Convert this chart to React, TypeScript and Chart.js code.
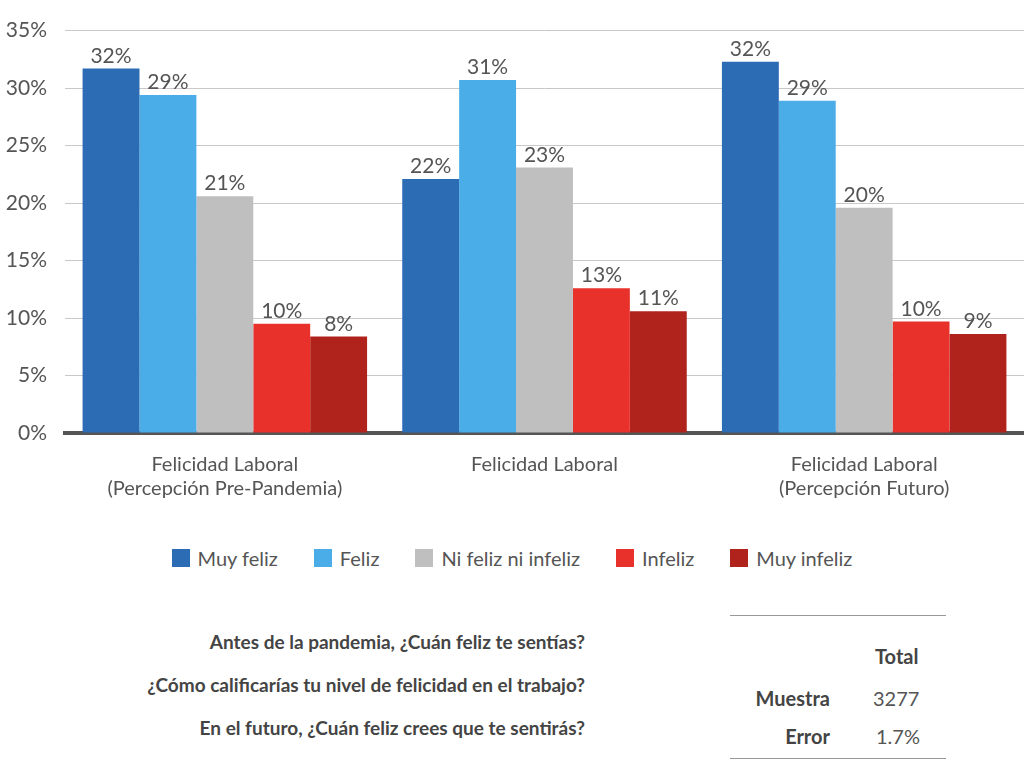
import React, { useEffect, useRef } from "react";
import { Chart, registerables } from "chart.js";
Chart.register(...registerables);

const categories = [["Felicidad Laboral", "(Percepción Pre-Pandemia)"], ["Felicidad Laboral"], ["Felicidad Laboral", "(Percepción Futuro)"]];
const seriesNames = ["Muy feliz", "Feliz", "Ni feliz ni infeliz", "Infeliz", "Muy infeliz"];
const colors = ["#2B6CB5", "#4BADE8", "#BFBFBF", "#E8312A", "#B0231C"];
const muyFeliz = [31.7, 22.1, 32.3];
const feliz = [29.4, 30.7, 28.9];
const niFeliz = [20.6, 23.1, 19.6];
const infeliz = [9.5, 12.6, 9.7];
const muyInfeliz = [8.4, 10.6, 8.6];
const seriesValues = [muyFeliz, feliz, niFeliz, infeliz, muyInfeliz];
const questions = ["Antes de la pandemia, ¿Cuán feliz te sentías?", "¿Cómo calificarías tu nivel de felicidad en el trabajo?", "En el futuro, ¿Cuán feliz crees que te sentirás?"];
const font = "Lato, 'Open Sans', sans-serif";

const labelPlugin = {
  id: "vals",
  afterDatasetsDraw(chart: any) {
    const ctx = chart.ctx;
    ctx.save();
    ctx.font = `21px ${font}`;
    ctx.fillStyle = "#555";
    ctx.textAlign = "center";
    ctx.textBaseline = "bottom";
    chart.data.datasets.forEach((ds: any, i: number) => {
      chart.getDatasetMeta(i).data.forEach((bar: any, j: number) => {
        ctx.fillText(Math.round(ds.data[j]) + "%", bar.x, bar.y - 2);
      });
    });
    ctx.restore();
  },
};

export default function App() {
  const ref = useRef<HTMLCanvasElement>(null);
  useEffect(() => {
    const chart = new Chart(ref.current!, {
      type: "bar",
      data: {
        labels: categories as any,
        datasets: seriesNames.map((n, i) => ({ label: n, data: seriesValues[i], backgroundColor: colors[i], barPercentage: 1, categoryPercentage: 0.89 })),
      },
      options: {
        animation: false,
        responsive: false,
        layout: { padding: { top: 12, right: 0 } },
        plugins: { legend: { display: false }, tooltip: { enabled: false } },
        scales: {
          y: {
            min: 0, max: 35,
            ticks: { stepSize: 5, callback: (v: any) => v + "%", color: "#555", font: { size: 21, family: font }, padding: 18 },
            grid: { color: "#c8c8c8", drawTicks: false },
            border: { display: false },
            afterFit: (s: any) => { s.width = 65; },
          },
          x: {
            ticks: { color: "#555", font: { size: 20, family: font }, padding: 12 },
            grid: { display: false },
            border: { color: "#555", width: 4 },
            afterFit: (s: any) => { s.height = 87; },
          },
        },
      },
      plugins: [labelPlugin],
    });
    return () => chart.destroy();
  }, []);
  return (
    <div style={{ position: "absolute", left: 0, top: 0, width: 1024, height: 760, background: "#fff", fontFamily: font, color: "#555", overflow: "hidden" }}>
      <canvas ref={ref} width={1024} height={520} style={{ position: "absolute", left: 0, top: 0 }} />
      <div style={{ position: "absolute", top: 546, left: 0, width: 1024, display: "flex", justifyContent: "center", gap: 0, fontSize: 20 }}>
        {seriesNames.map((n, i) => (
          <div key={n} style={{ display: "flex", alignItems: "center", marginRight: i < 4 ? 36 : 0 }}>
            <span style={{ width: 18, height: 18, background: colors[i], display: "inline-block", marginRight: 8 }} />
            {n}
          </div>
        ))}
      </div>
      {questions.map((q, i) => (
        <div key={q} style={{ position: "absolute", right: 1024 - 585, top: 630 + i * 43, fontWeight: 700, fontSize: 19, color: "#444", whiteSpace: "nowrap" }}>{q}</div>
      ))}
      <div style={{ position: "absolute", left: 730, width: 216, top: 615, borderTop: "1.5px solid #999" }} />
      <div style={{ position: "absolute", left: 730, width: 216, top: 758, borderTop: "1.5px solid #999" }} />
      <div style={{ position: "absolute", left: 875, top: 644, fontWeight: 700, fontSize: 20, color: "#444" }}>Total</div>
      <div style={{ position: "absolute", right: 1024 - 830, top: 686, fontWeight: 700, fontSize: 20, color: "#444" }}>Muestra</div>
      <div style={{ position: "absolute", left: 873, top: 686, fontSize: 20 }}>3277</div>
      <div style={{ position: "absolute", right: 1024 - 830, top: 724, fontWeight: 700, fontSize: 20, color: "#444" }}>Error</div>
      <div style={{ position: "absolute", left: 876, top: 724, fontSize: 20 }}>1.7%</div>
    </div>
  );
}
